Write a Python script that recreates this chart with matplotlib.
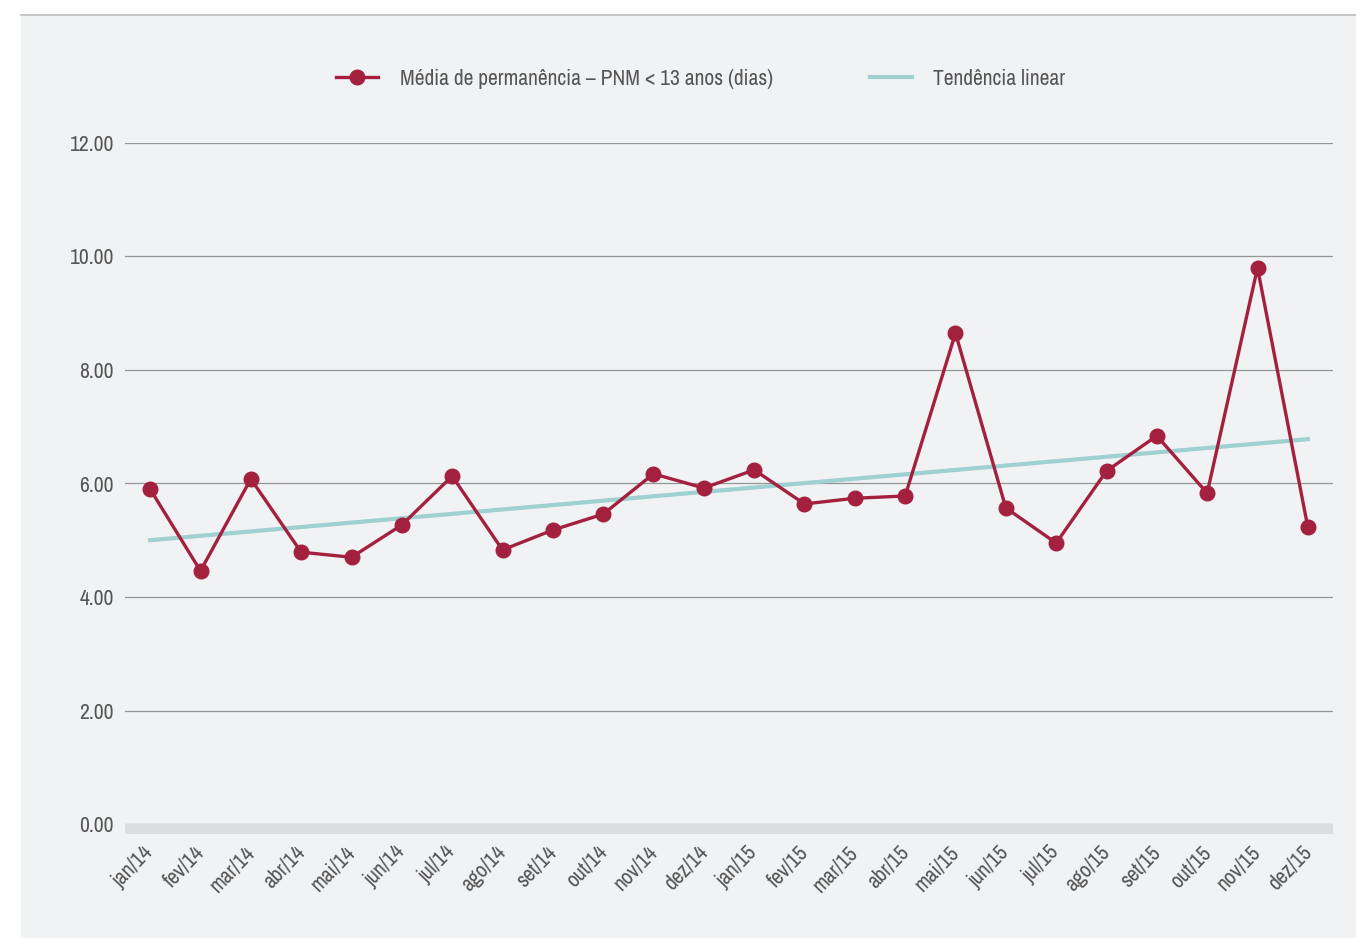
import numpy as np
import matplotlib.pyplot as plt
import matplotlib.transforms as mtransforms
from matplotlib.lines import Line2D
from matplotlib.patches import Rectangle

meses = ["jan/14", "fev/14", "mar/14", "abr/14", "mai/14", "jun/14", "jul/14", "ago/14",
         "set/14", "out/14", "nov/14", "dez/14", "jan/15", "fev/15", "mar/15", "abr/15",
         "mai/15", "jun/15", "jul/15", "ago/15", "set/15", "out/15", "nov/15", "dez/15"]
media = [5.90, 4.46, 6.08, 4.79, 4.70, 5.27, 6.13, 4.83, 5.18, 5.46, 6.17, 5.92,
         6.24, 5.64, 5.74, 5.78, 8.65, 5.57, 4.95, 6.22, 6.84, 5.83, 9.80, 5.23]

vermelho = "#a3213f"
azul = "#9fd0d2"
fundo = "#f1f2f4"
texto = "#555555"

plt.rcParams['font.family'] = ['Archivo Narrow', 'DejaVu Sans']

fig = plt.figure(figsize=(13.56, 9.38), dpi=100)
fig.patch.set_facecolor("white")
# painel cinzento de fundo
fig.patches.append(Rectangle((21 / 1356, 0), 1 - 21 / 1356, 1 - 16 / 938,
                             transform=fig.transFigure, facecolor=fundo,
                             edgecolor="none", zorder=-10))
fig.add_artist(Line2D([21 / 1356, 1], [1 - 15 / 938, 1 - 15 / 938],
                      transform=fig.transFigure, color="#bbbbbb", lw=1.2))

ax = fig.add_axes([125 / 1356, 1 - 824 / 938, (1333 - 125) / 1356, (824 - 143) / 938])
ax.set_facecolor("none")

x = np.arange(len(meses))
coef = np.polyfit(x, media, 1)
tendencia = np.polyval(coef, x)

ax.plot(x, tendencia, color=azul, lw=3, zorder=2)
ax.plot(x, media, color=vermelho, lw=2.4, marker="o", markersize=10.5, zorder=3)

ax.set_xlim(-0.5, len(meses) - 0.5)
ax.set_ylim(0, 12)
ax.set_yticks(np.arange(0, 12.1, 2))
ax.set_yticklabels([f"{v:.2f}" for v in np.arange(0, 12.1, 2)])
ax.yaxis.grid(True, color="#959595", lw=0.9)
ax.set_axisbelow(True)
ax.tick_params(axis="y", length=0, pad=8, labelsize=15.5, labelcolor=texto)
ax.tick_params(axis="x", length=0, pad=13, labelsize=15.5, labelcolor=texto)
ax.set_xticks(x)
ax.set_xticklabels(meses, rotation=46, ha="right", va="top", rotation_mode="anchor")
desloc = mtransforms.ScaledTranslation(-7 / 100, 0, fig.dpi_scale_trans)
for lab in ax.get_xticklabels():
    lab.set_transform(lab.get_transform() + desloc)
for s in ax.spines.values():
    s.set_visible(False)

# faixa cinzenta no eixo x
ax.add_patch(Rectangle((0, -10 / 681), 1, 10 / 681, transform=ax.transAxes,
                       facecolor="#dcdddf", edgecolor="none", clip_on=False, zorder=1))

h1 = Line2D([], [], color=vermelho, lw=2.4, marker="o", markersize=10.5)
h2 = Line2D([], [], color=azul, lw=3)
fig.legend([h1, h2], ["Média de permanência – PNM < 13 anos (dias)", "Tendência linear"],
           loc="center", bbox_to_anchor=(0.517, 1 - 79 / 938), ncol=2, frameon=False,
           fontsize=15.5, labelcolor=texto, handlelength=1.95, columnspacing=4.5,
           handletextpad=1.0)

fig.savefig("out.png", dpi=100, facecolor=fig.get_facecolor())
